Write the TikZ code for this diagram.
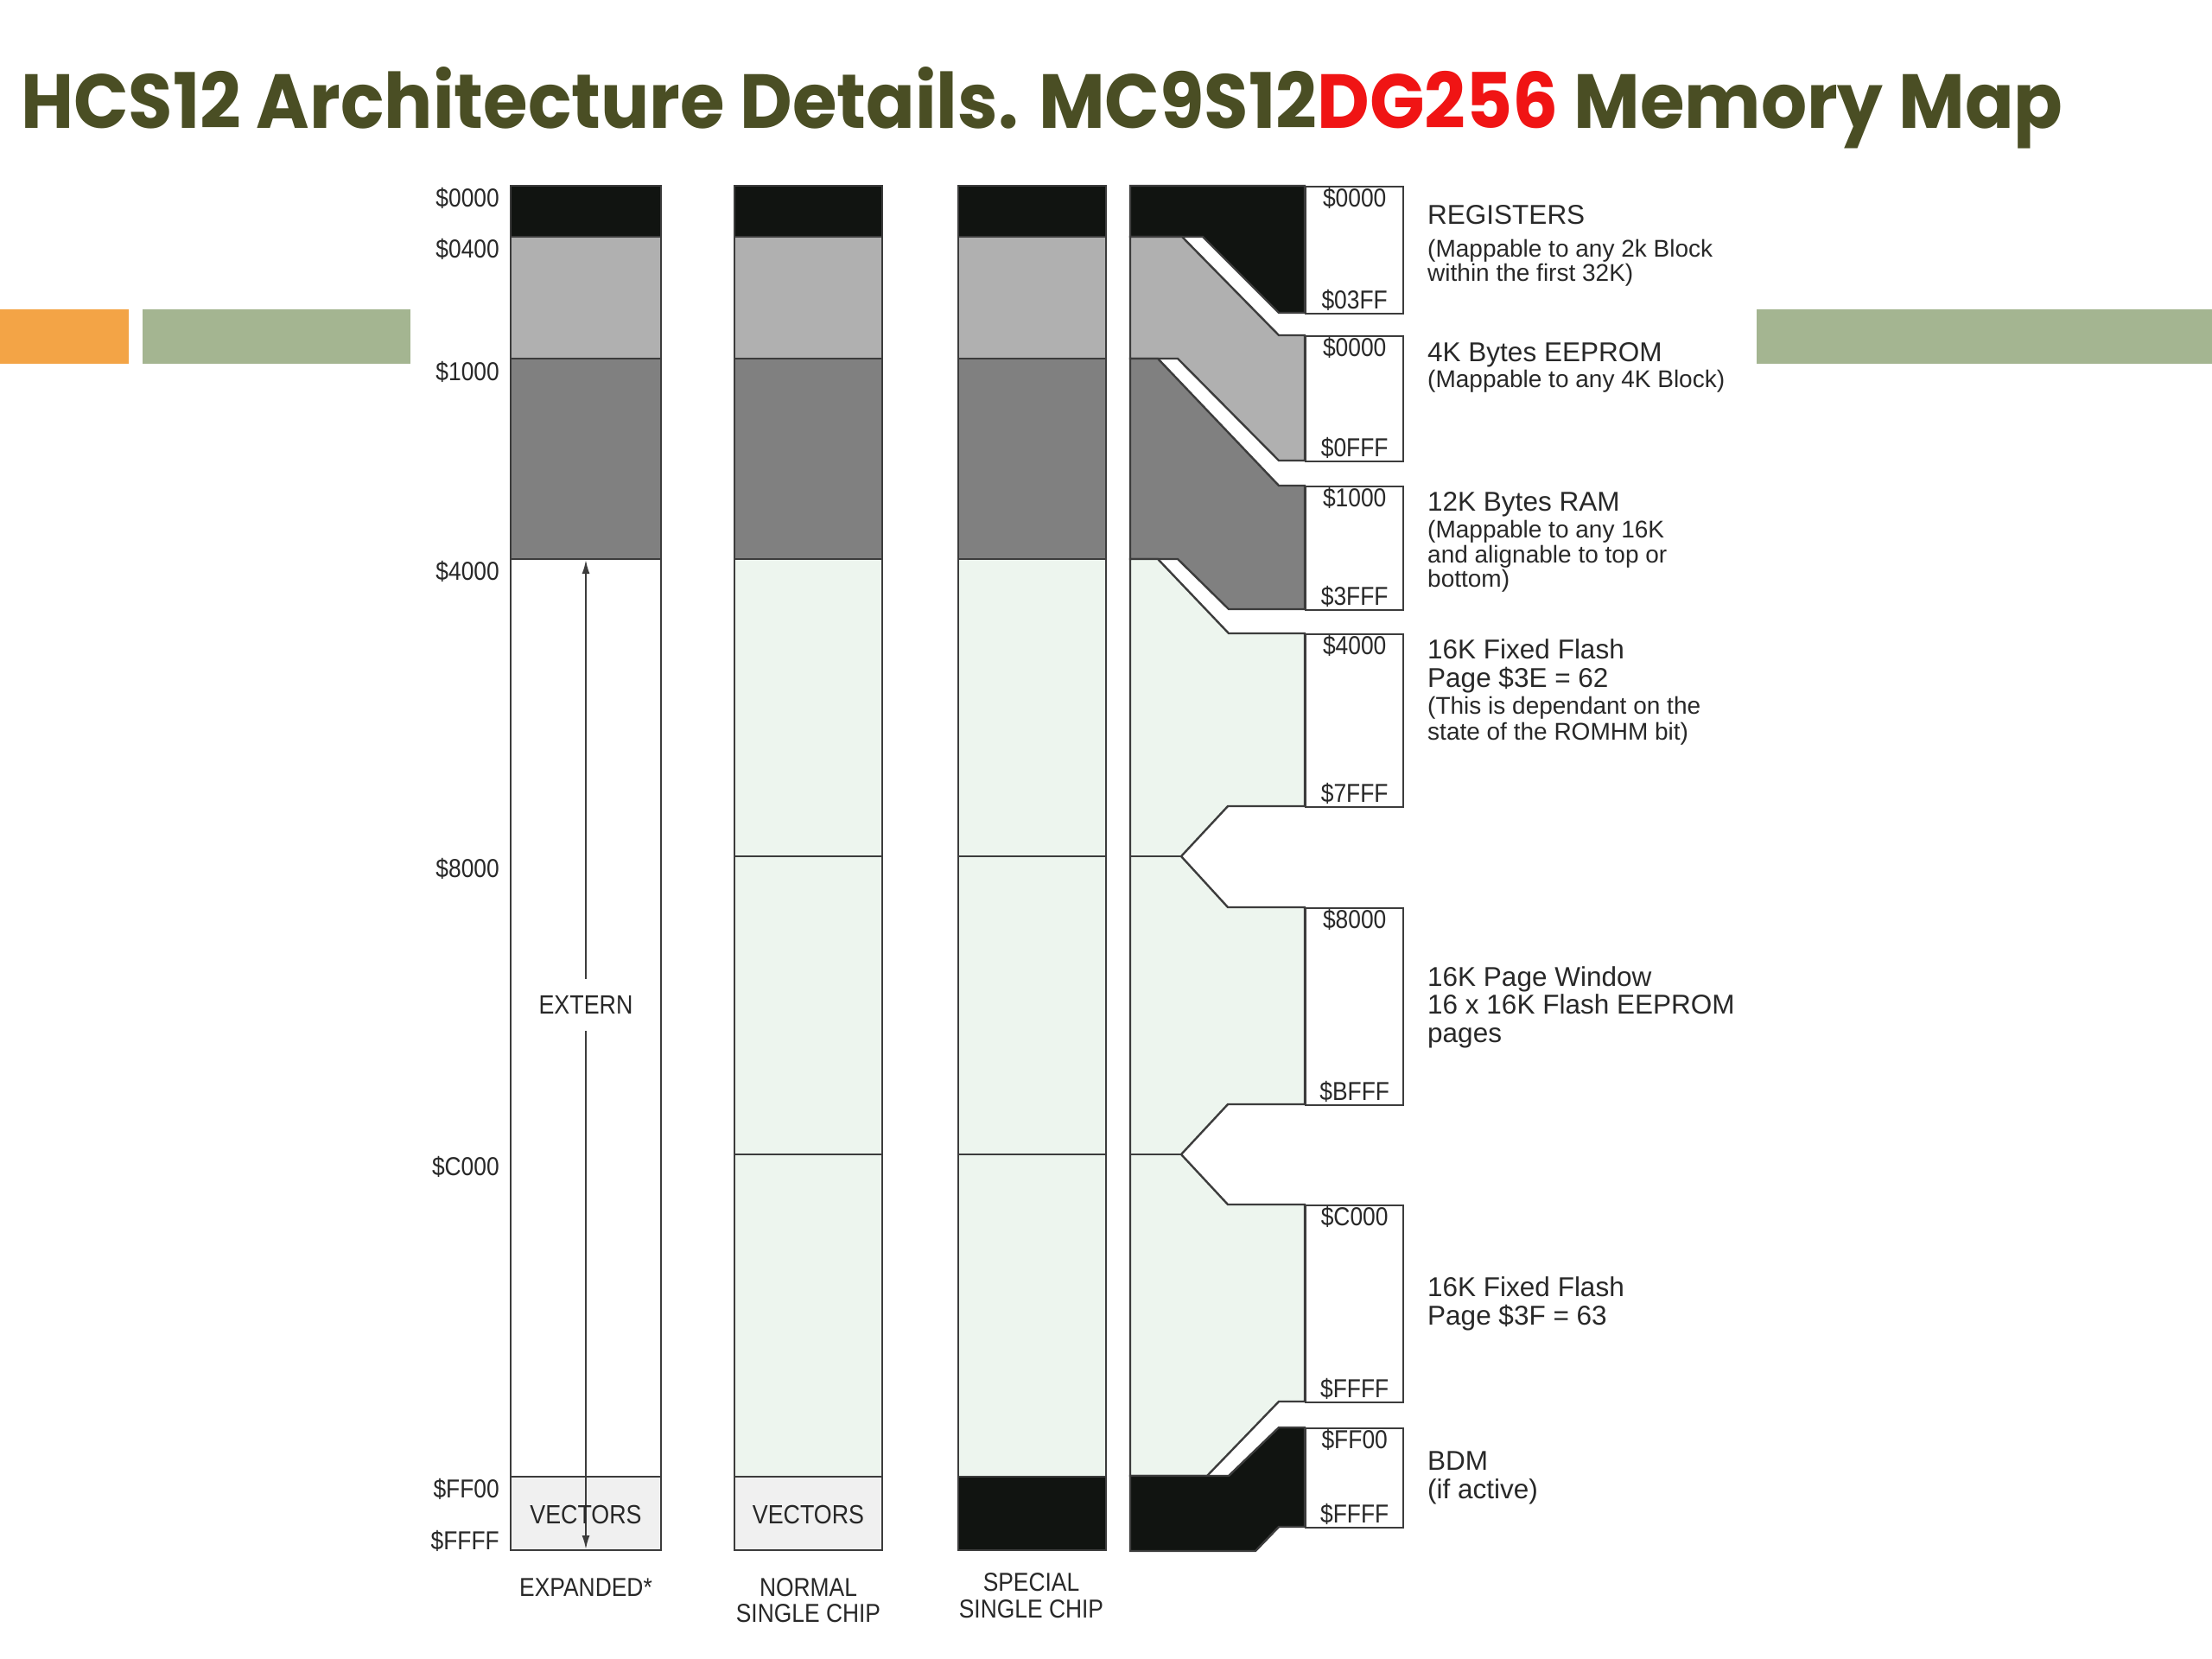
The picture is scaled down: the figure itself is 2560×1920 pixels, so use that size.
\documentclass[tikz,border=0pt]{standalone}
\usepackage{fontspec}
\usepackage{graphicx}
\usetikzlibrary{arrows.meta}
\setmainfont{Liberation Sans}
\newfontfamily\descfont{Liberation Sans}
\newfontfamily\lblfont{Liberation Sans}[FakeStretch=0.88]
\newfontfamily\titlefont{Poppins}
\definecolor{titlec}{RGB}{74,78,36}
\definecolor{titler}{RGB}{240,20,20}
\definecolor{orng}{RGB}{243,164,70}
\definecolor{sage}{RGB}{164,181,145}
\definecolor{blk}{RGB}{17,20,17}
\definecolor{lgray}{RGB}{176,176,176}
\definecolor{dgray}{RGB}{128,128,128}
\definecolor{lgreen}{RGB}{237,245,238}
\definecolor{vecgray}{RGB}{240,240,240}
\definecolor{linec}{RGB}{60,60,60}
\definecolor{txt}{RGB}{40,40,40}
\tikzset{
  band/.style={draw=linec, line width=2.4pt, line join=miter},
  mbox/.style={draw=linec, line width=2.4pt, fill=white, anchor=north west, inner sep=0pt, minimum width=113pt},
  desc/.style={anchor=base west, inner sep=0pt, text=txt, font=\descfont\fontsize{31.5}{33}\selectfont},
  descs/.style={desc, font=\descfont\fontsize{28}{30}\selectfont},
  lbl/.style={inner sep=0pt, text=txt, font=\lblfont\fontsize{30}{32}\selectfont},
  lblb/.style={inner sep=0pt, text=txt, font=\lblfont\fontsize{30.5}{32}\selectfont},
  arr/.style={draw=linec, line width=2pt, -{Latex[length=16pt,width=9pt]}}
}
\begin{document}
\begin{tikzpicture}[x=1pt, y=-1pt]
\useasboundingbox (0,0) rectangle (2560,1920);
\fill[white] (0,0) rectangle (2560,1920);

% title
\node[anchor=base west, inner sep=0pt] (title) at (24,148)
  {\resizebox{2363pt}{71pt}{\titlefont\bfseries\color{titlec}HCS12 Architecture Details. MC9S12\textcolor{titler}{DG256} Memory Map}};

% decorative bars
\fill[orng] (0,358) rectangle (149,421);
\fill[sage] (165,358) rectangle (475,421);
\fill[sage] (2033,358) rectangle (2560,421);

% columns 1-3: top bands
\foreach \xa/\xb in {591/765, 850/1021, 1109/1280} {
  \draw[band, fill=blk] (\xa,215) rectangle (\xb,274);
  \draw[band, fill=lgray] (\xa,274) rectangle (\xb,415);
  \draw[band, fill=dgray] (\xa,415) rectangle (\xb,647);
}
% column 1 (expanded)
\draw[band, fill=white] (591,647) rectangle (765,1709);
\draw[band, fill=vecgray] (591,1709) rectangle (765,1794);
% column 2 (normal single chip)
\foreach \ya/\yb in {647/991, 991/1336, 1336/1709}
  \draw[band, fill=lgreen] (850,\ya) rectangle (1021,\yb);
\draw[band, fill=vecgray] (850,1709) rectangle (1021,1794);
% column 3 (special single chip)
\foreach \ya/\yb in {647/991, 991/1336, 1336/1709}
  \draw[band, fill=lgreen] (1109,\ya) rectangle (1280,\yb);
\draw[band, fill=blk] (1109,1709) rectangle (1280,1794);

% column 4: mapped regions
\draw[band, fill=blk] (1308,215) -- (1510,215) -- (1510,362) -- (1480,362) -- (1392,274) -- (1308,274) -- cycle;
\draw[band, fill=lgray] (1308,274) -- (1368,274) -- (1480,388) -- (1510,388) -- (1510,533) -- (1480,533) -- (1363,415) -- (1308,415) -- cycle;
\draw[band, fill=dgray] (1308,415) -- (1340,415) -- (1480,562) -- (1510,562) -- (1510,705) -- (1422,705) -- (1363,647) -- (1308,647) -- cycle;
\draw[band, fill=lgreen] (1308,647) -- (1340,647) -- (1422,733) -- (1510,733) -- (1510,933) -- (1421,933) -- (1367,991) -- (1421,1050) -- (1510,1050) -- (1510,1278) -- (1421,1278) -- (1367,1336) -- (1421,1394) -- (1510,1394) -- (1510,1622) -- (1480,1622) -- (1397,1708) -- (1308,1708) -- cycle;
\draw[band] (1308,991) -- (1367,991);
\draw[band] (1308,1336) -- (1367,1336);
\draw[band, fill=blk] (1308,1708) -- (1422,1708) -- (1480,1652) -- (1510,1652) -- (1510,1767) -- (1480,1767) -- (1453,1795) -- (1308,1795) -- cycle;

% address boxes
\node[mbox, minimum height=147pt] (breg) at (1510,215) {};
\node[mbox, minimum height=145pt] (beep) at (1510,388) {};
\node[mbox, minimum height=143pt] (bram) at (1510,562) {};
\node[mbox, minimum height=200pt] (bfl1) at (1510,733) {};
\node[mbox, minimum height=228pt] (bwin) at (1510,1050) {};
\node[mbox, minimum height=228pt] (bfl2) at (1510,1394) {};
\node[mbox, minimum height=115pt] (bbdm) at (1510,1652) {};

\foreach \b/\t/\e in {breg/0000/03FF, beep/0000/0FFF, bram/1000/3FFF, bfl1/4000/7FFF, bwin/8000/BFFF, bfl2/C000/FFFF, bbdm/FF00/FFFF} {
  \node[lbl, anchor=base] (\b-top) at ([yshift=-24pt]\b.north) {\$\t};
  \node[lbl, anchor=base] (\b-bot) at ([yshift=7pt]\b.south) {\$\e};
}

% left address labels
\node[lbl, anchor=base east] (a0) at (578,239) {\$0000};
\node[lbl, anchor=base east] (a1) at (578,298) {\$0400};
\node[lbl, anchor=base east] (a2) at (578,440) {\$1000};
\node[lbl, anchor=base east] (a3) at (578,671) {\$4000};
\node[lbl, anchor=base east] (a4) at (578,1015) {\$8000};
\node[lbl, anchor=base east] (a5) at (578,1360) {\$C000};
\node[lbl, anchor=base east] (a6) at (578,1733) {\$FF00};
\node[lbl, anchor=base east] (a7) at (578,1793) {\$FFFF};

% extern arrow
\node[lblb, minimum height=60pt] (extern) at (678,1163) {EXTERN};
\coordinate (atop) at (678,648);
\coordinate (abot) at (678,1793);
\draw[arr] (extern.north) -- (atop);
\draw[arr] (extern.south) -- (abot);

\node[lblb, anchor=base] (vec1) at (678,1763) {VECTORS};
\node[lblb, anchor=base] (vec2) at (935.5,1763) {VECTORS};

% column captions
\node[lbl, anchor=base] (cap1) at (678,1847) {EXPANDED*};
\node[lbl, anchor=base] (cap2) at (935.5,1847) {NORMAL};
\node[lbl, anchor=base] (cap2b) at (935.5,1877) {SINGLE CHIP};
\node[lbl, anchor=base] (cap3) at (1193.5,1841) {SPECIAL};
\node[lbl, anchor=base] (cap3b) at (1193.5,1872) {SINGLE CHIP};

% descriptions
\node[desc] (d1) at (1652,259) {REGISTERS};
\node[descs] (d1a) at (1652,297) {(Mappable to any 2k Block};
\node[descs] (d1b) at (1652,325) {within the first 32K)};
\node[desc] (d2) at (1652,418) {4K Bytes EEPROM};
\node[descs] (d2a) at (1652,448) {(Mappable to any 4K Block)};
\node[desc] (d3) at (1652,591) {12K Bytes RAM};
\node[descs] (d3a) at (1652,622) {(Mappable to any 16K};
\node[descs] (d3b) at (1652,651) {and alignable to top or};
\node[descs] (d3c) at (1652,679) {bottom)};
\node[desc] (d4) at (1652,762) {16K Fixed Flash};
\node[desc] (d4a) at (1652,795) {Page \$3E = 62};
\node[descs] (d4b) at (1652,826) {(This is dependant on the};
\node[descs] (d4c) at (1652,856) {state of the ROMHM bit)};
\node[desc] (d5) at (1652,1141) {16K Page Window};
\node[desc] (d5a) at (1652,1173) {16 x 16K Flash EEPROM};
\node[desc] (d5b) at (1652,1206) {pages};
\node[desc] (d6) at (1652,1500) {16K Fixed Flash};
\node[desc] (d6a) at (1652,1533) {Page \$3F = 63};
\node[desc] (d7) at (1652,1701) {BDM};
\node[desc] (d7a) at (1652,1734) {(if active)};
\end{tikzpicture}
\end{document}
